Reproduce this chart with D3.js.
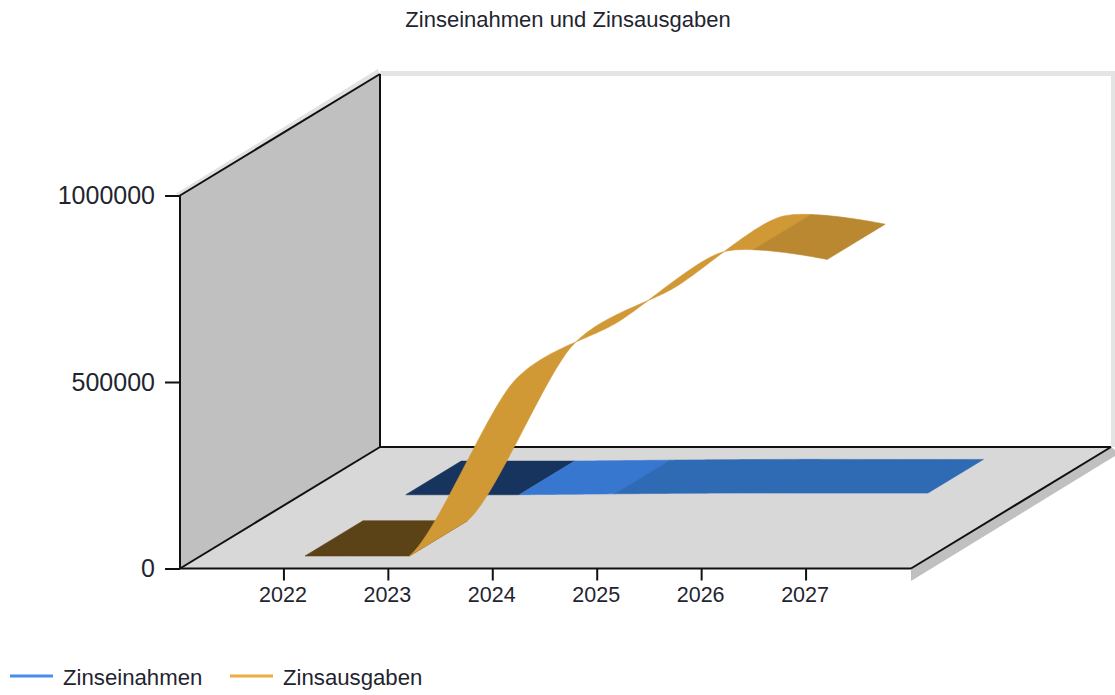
<!DOCTYPE html>
<html><head><meta charset="utf-8"><script src="https://cdn.jsdelivr.net/npm/d3@7"></script>
<style>html,body{margin:0;background:#fff}svg{display:block}text{font-family:"Liberation Sans",Arial,sans-serif;fill:#1f2530}</style></head>
<body><svg id="c" width="1115" height="695"></svg>
<script>
const titleText = "Zinseinahmen und Zinsausgaben";
const years = [2022, 2023, 2024, 2025, 2026, 2027];
const zinseinnahmen = [0, 0, 2500, 4500, 4500, 4500];
const zinsausgaben = [0, 0, 468000, 628000, 815000, 795000];
const yTicks = [0, 500000, 1000000];
const seriesNames = ["Zinseinahmen", "Zinsausgaben"];
const legendColors = ["#4a8cf0", "#f2ab3f"];
// shading bands along each ribbon: [end year, fill]
const bandsEin = [[2023.07, "#17345e"], [2024.0, "#3777d0"], [2027, "#2f6ab5"]];
const bandsAus = [[2023.0, "#5c4317"], [2026.28, "#d19936"], [2027, "#ba8830"]];

const svg = d3.select("#c");
const L = 180, R = 911, B = 568.5, T = 195.5, DX = 200, DY = -121.5;
const x = d3.scaleLinear().domain([2021, 2028]).range([L, R]);
const y = d3.scaleLinear().domain([0, 1000000]).range([B, T]);
const poly = (pts, fill) => svg.append("polygon").attr("points", pts.map(p => p.join(",")).join(" ")).attr("fill", fill);
const seg = (a, b, w = 2, c = "#111") => svg.append("line").attr("x1", a[0]).attr("y1", a[1]).attr("x2", b[0]).attr("y2", b[1]).attr("stroke", c).attr("stroke-width", w);

// shadows
poly([[R, B], [R + DX, B + DY], [1115, B + DY + 3], [1115, 456], [R, 581]], "#c0c0c0");
poly([[L - 4, T - 2], [L + DX - 2, T + DY - 5], [L + DX, T + DY + 2], [L, T + 2]], "#e2e2e2");
poly([[L + DX, T + DY - 3], [1115, T + DY - 3], [1115, B + DY], [1111, B + DY], [1111, T + DY + 2], [L + DX, T + DY + 2]], "#e4e4e4");
// walls
poly([[L, T], [L + DX, T + DY], [L + DX, B + DY], [L, B]], "#c0c0c0");
poly([[L, B], [R, B], [R + DX, B + DY], [L + DX, B + DY]], "#d8d8d8");
seg([L, T], [L + DX, T + DY]); seg([L + DX, T + DY], [L + DX, B + DY]); seg([L, T], [L, B]);
seg([L, B], [L + DX, B + DY]); seg([L + DX, B + DY], [R + DX, B + DY]); seg([R, B], [R + DX, B + DY]); seg([L, B], [R, B]);

// spline sampling through d3.curveCardinal; the ribbon never drops below the floor
function sampleSpline(vals) {
  const out = []; let cur = null;
  const ctx = {
    beginPath() {}, closePath() {},
    moveTo(a, b) { cur = [a, b]; out.push(cur); },
    lineTo(a, b) { cur = [a, b]; out.push(cur); },
    bezierCurveTo(a, b, c, d, e, f) {
      const p = cur;
      for (let i = 1; i <= 30; i++) {
        const t = i / 30, u = 1 - t;
        out.push([u*u*u*p[0] + 3*u*u*t*a + 3*u*t*t*c + t*t*t*e, u*u*u*p[1] + 3*u*u*t*b + 3*u*t*t*d + t*t*t*f]);
      }
      cur = [e, f];
    }
  };
  d3.line().x((d, i) => x(years[i])).y(d => y(d)).curve(d3.curveCardinal.tension(0.2)).context(ctx)(vals);
  return out.map(p => [p[0], Math.min(p[1], y(0))]);
}
function ribbon(vals, z0, z1, bands) {
  const s = sampleSpline(vals);
  const ln = d3.line();
  let start = 0;
  bands.forEach(([endYear, fill]) => {
    const xe = x(endYear);
    let end = s.findIndex(p => p[0] >= xe);
    if (end < 0) end = s.length - 1;
    const part = s.slice(start, end + 1);
    const front = part.map(p => [p[0] + DX * z0, p[1] + DY * z0]);
    const back = part.map(p => [p[0] + DX * z1, p[1] + DY * z1]).reverse();
    svg.append("path").attr("d", ln(front.concat(back)) + "Z").attr("fill", fill).attr("stroke", fill).attr("stroke-width", .6);
    start = end;
  });
}
ribbon(zinseinnahmen, 0.607, 0.884, bandsEin);
ribbon(zinsausgaben, 0.103, 0.393, bandsAus);

// axes
const yAxis = d3.axisLeft(y).tickValues(yTicks).tickFormat(d3.format("d")).tickSize(15).tickSizeOuter(0);
const gy = svg.append("g").attr("transform", `translate(${L},0)`).call(yAxis);
gy.select(".domain").remove();
gy.selectAll("line").attr("stroke", "#111").attr("stroke-width", 2);
gy.selectAll("text").attr("x", -25).attr("font-size", 25).style("font-family", '"Liberation Sans"');
const xAxis = d3.axisBottom(x).tickValues(years).tickFormat(d3.format("d")).tickSize(12).tickSizeOuter(0);
const gx = svg.append("g").attr("transform", `translate(-1,${B})`).call(xAxis);
gx.select(".domain").remove();
gx.selectAll("line").attr("stroke", "#111").attr("stroke-width", 2);
gx.selectAll("text").attr("y", 18).attr("dx", -1).attr("font-size", 21.5);

svg.append("text").attr("x", 568).attr("y", 27).attr("text-anchor", "middle").attr("font-size", 22).text(titleText);

const legendX = [10, 230];
seriesNames.forEach((n, i) => {
  seg([legendX[i], 676], [legendX[i] + 43, 676], 3, legendColors[i]);
  svg.append("text").attr("x", legendX[i] + 53).attr("y", 685).attr("font-size", 22.2).text(n);
});
</script></body></html>
